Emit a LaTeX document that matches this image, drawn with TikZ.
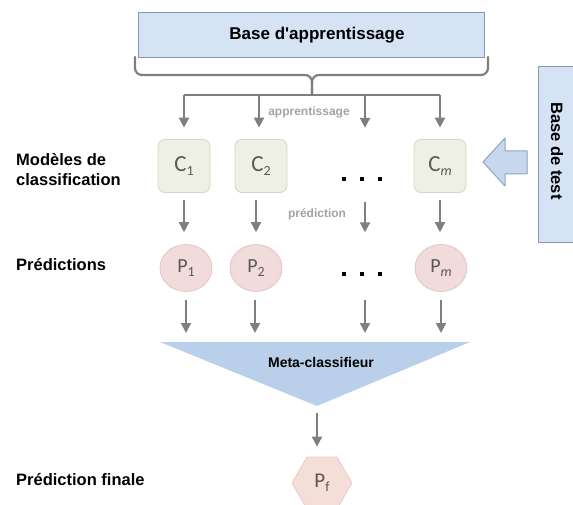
\documentclass[tikz,border=0pt]{standalone}
\usepackage{fontspec}
\setmainfont{Liberation Sans}
\newfontfamily\calfont{Carlito}
\usetikzlibrary{shapes.geometric,arrows.meta}
\definecolor{blueFill}{HTML}{D6E3F4}
\definecolor{blueLine}{HTML}{8497B5}
\definecolor{arrFill}{HTML}{C6D7EE}
\definecolor{arrLine}{HTML}{8EA3C3}
\definecolor{triFill}{HTML}{B9CFEA}
\definecolor{cFill}{HTML}{EEF0E3}
\definecolor{cLine}{HTML}{D3D6C4}
\definecolor{pFill}{HTML}{F2DBDB}
\definecolor{pLine}{HTML}{E3C6C6}
\definecolor{hexFill}{HTML}{F5DDD8}
\definecolor{hexLine}{HTML}{E8CCC6}
\definecolor{lineGray}{HTML}{7F7F7F}
\definecolor{lblGray}{HTML}{A3A3A3}
\definecolor{txtGray}{HTML}{595959}
\newcommand{\mysub}[1]{{\fontsize{14}{14}\selectfont\raisebox{-4pt}{#1}}}
\tikzset{
  basebox/.style={draw=blueLine, line width=1pt, fill=blueFill, inner sep=0pt},
  cbox/.style={draw=cLine, line width=0.8pt, fill=cFill, rounded corners=7pt, minimum width=52pt, minimum height=53pt, inner sep=0pt, font=\calfont\fontsize{23}{23}\selectfont, text=txtGray},
  pcirc/.style={draw=pLine, line width=0.8pt, fill=pFill, ellipse, minimum width=52pt, minimum height=47pt, inner sep=0pt, font=\calfont\fontsize{20}{20}\selectfont, text=txtGray},
  ghost/.style={minimum width=52pt, minimum height=53pt, inner sep=0pt},
  ghostp/.style={minimum width=52pt, minimum height=47pt, inner sep=0pt},
  arr/.style={draw=lineGray, line width=2pt, -{Triangle[length=10pt,width=10pt]}},
  lbl/.style={font=\bfseries\fontsize{16.5}{20.5}\selectfont, align=left, anchor=west, inner sep=0pt},
  small/.style={font=\bfseries\fontsize{12}{12}\selectfont, text=lblGray, inner sep=0pt},
  dotsty/.style={fill=black, minimum size=4.5pt, inner sep=0pt}
}
\begin{document}
\begin{tikzpicture}[x=1pt,y=-1pt]
\useasboundingbox (0,0) rectangle (573,505);
% base d'apprentissage
\node[basebox, minimum width=346pt, minimum height=45pt] (base) at (311,35.5) {};
\node[font=\bfseries\fontsize{17}{17}\selectfont] (basetxt) at (317,35.5) {Base d\textquotesingle apprentissage};
% brace
\coordinate (bl) at (135,57);
\coordinate (br) at (488,57);
\coordinate (tip) at (312,95);
\draw[lineGray, line width=2.2pt, line cap=round, rounded corners=7pt]
  (bl) -- (135,75) -- (312,75) -- (tip);
\draw[lineGray, line width=2.2pt, line cap=round, rounded corners=7pt]
  (br) -- (488,75) -- (312,75) -- (tip);
% distribution line
\coordinate (d1) at (184,95);
\coordinate (d2) at (259,95);
\coordinate (d3) at (365,95);
\coordinate (d4) at (440,95);
\draw[lineGray, line width=2pt] (d1) -- (d4);
% classifiers
\node[cbox] (c1) at (184,166) {C\mysub{1}};
\node[cbox] (c2) at (261,166) {C\mysub{2}};
\node[ghost] (cd) at (365,166) {};
\node[cbox] (cm) at (440,166) {C\mysub{\itshape m}};
\foreach \d/\c in {d1/c1,d2/c2,d3/cd,d4/cm}
  \draw[arr, shorten >=11.5pt] (\d) -- (\d |- \c.north);
\node[small] (app) at (309,112) {apprentissage};
% dots
\node[dotsty] (a1) at (344,179) {};
\node[dotsty] (a2) at (362,179) {};
\node[dotsty] (a3) at (380,179) {};
% predictions
\node[pcirc] (p1) at (186,268) {P\mysub{1}};
\node[pcirc] (p2) at (256,268) {P\mysub{2}};
\node[ghostp] (pd) at (365,268) {};
\node[pcirc] (pm) at (441,268) {P\mysub{\itshape m}};
\draw[arr, shorten <=7.5pt, shorten >=12pt] (c1.south) -- (c1.south |- p1.north);
\draw[arr, shorten <=7.5pt, shorten >=12pt] (256,192.5) -- (p2.north);
\draw[arr, shorten <=9pt, shorten >=12pt] (cd.south) -- (pd.north);
\draw[arr, shorten <=7.5pt, shorten >=12pt] (cm.south) -- (cm.south |- pm.north);
\node[small] (pred) at (317,214) {prédiction};
\node[dotsty] (b1) at (344,274) {};
\node[dotsty] (b2) at (362,274) {};
\node[dotsty] (b3) at (380,274) {};
% meta classifier
\coordinate (tl) at (160,342);
\coordinate (tr) at (470,342);
\coordinate (ta) at (317,406);
\fill[triFill] (tl) -- (tr) -- (ta) -- cycle;
\node[font=\bfseries\fontsize{14}{14}\selectfont] (meta) at (321,362) {Meta-classifieur};
\foreach \p/\x in {p1/186,p2/255,pd/365,pm/441}
  \draw[arr, shorten <=8pt, shorten >=9pt] (\x,292) -- (\x,342);
% final
\node[regular polygon, regular polygon sides=6, minimum size=60pt, inner sep=0pt, draw=hexLine, line width=0.8pt, fill=hexFill, font=\calfont\fontsize{21}{21}\selectfont, text=txtGray] (pf) at (322,483) {P\mysub{f}};
\draw[arr, shorten <=7pt, shorten >=10pt] (ta) -- (ta |- pf.north);
% test base
\node[basebox, minimum width=48pt, minimum height=176pt] (test) at (562,155) {};
\node[rotate=-90, font=\bfseries\fontsize{16.5}{16.5}\selectfont] (testtxt) at (557,151) {Base de test};
\draw[draw=arrLine, line width=1pt, fill=arrFill, line join=round]
  (483,162) -- (505,138) -- (505,151) -- (527,151) -- (527,174) -- (505,174) -- (505,186) -- cycle;
% left labels
\node[lbl] (lm) at (16,169.5) {Modèles de\\classification};
\node[lbl] (lp) at (16,265) {Prédictions};
\node[lbl] (lf) at (16,480) {Prédiction finale};
\end{tikzpicture}
\end{document}
